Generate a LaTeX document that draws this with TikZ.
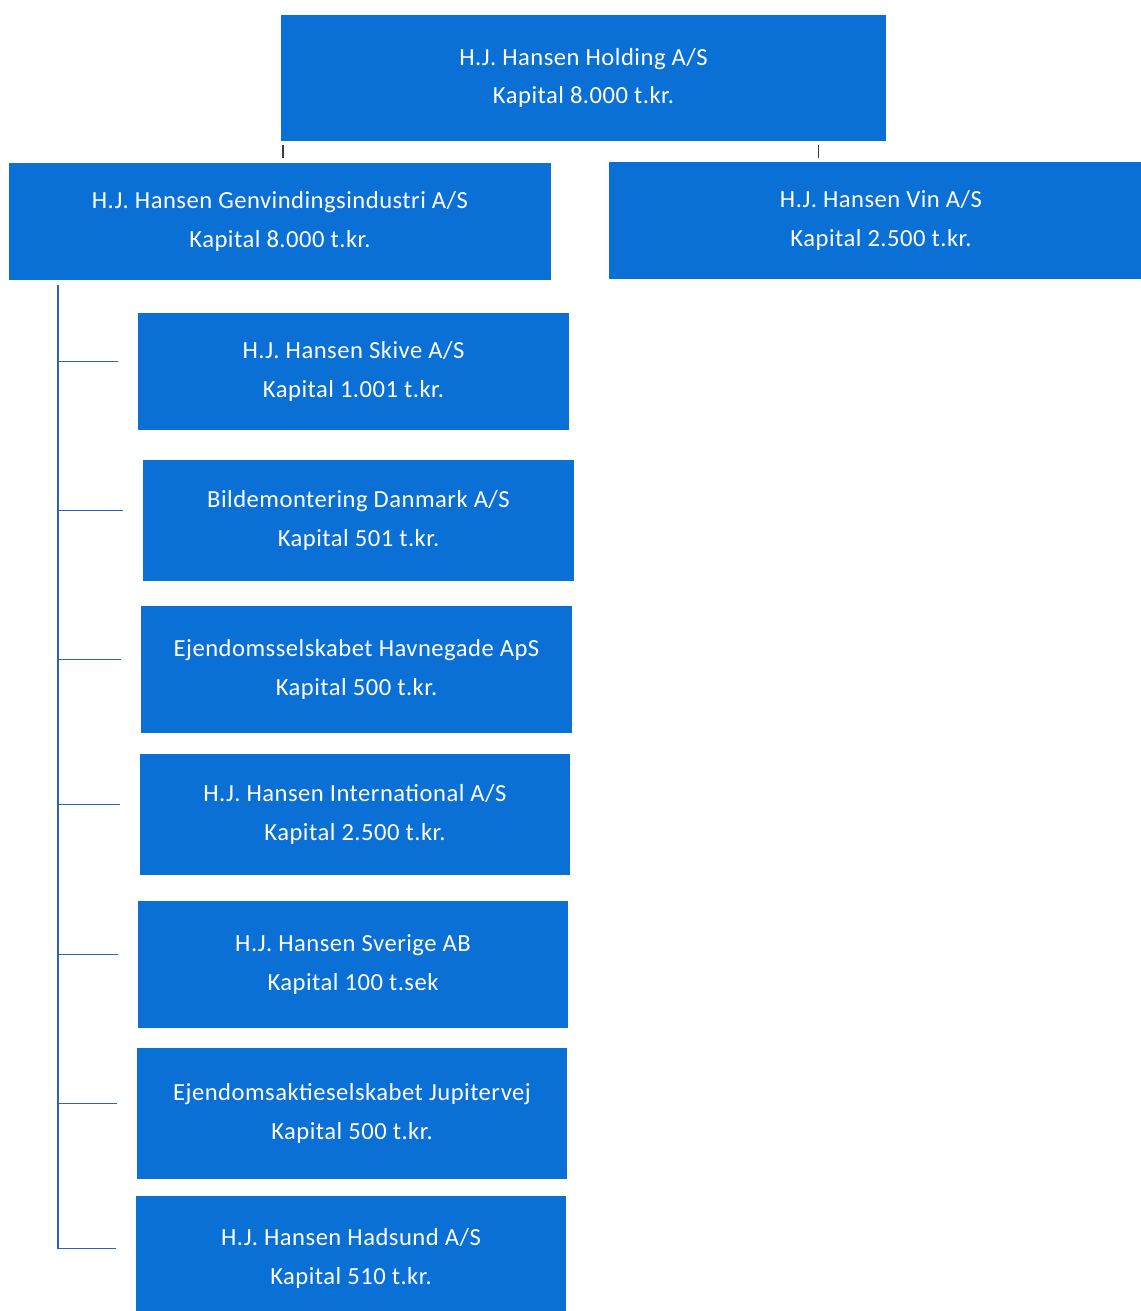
\documentclass[tikz,border=0pt]{standalone}
\usepackage{fontspec}
\setmainfont{Carlito}[LetterSpace=2]
\usepackage{tikz}
\usetikzlibrary{calc}

\definecolor{hjblue}{RGB}{10,112,214}
\definecolor{hjline}{RGB}{40,100,190}
\definecolor{hjtick}{RGB}{55,60,70}

\tikzset{
    firma/.style={fill=hjblue, draw=none, text=white, align=center,
        inner sep=0pt, font=\fontsize{14pt}{22pt}\selectfont},
    gren/.style={draw=hjline, line width=0.8pt},
    streg/.style={draw=hjtick, line width=0.9pt}
}

\begin{document}
\begin{tikzpicture}[x=0.02cm, y=-0.02cm]
        \useasboundingbox[fill=white] (0,0) rectangle (1140,1311);

        % top of the group
        \node[firma, minimum width=12.1cm, minimum height=2.52cm] (holding) at (583.5,78)
            {H.J. Hansen Holding A/S\\Kapital 8.000 t.kr.};

        % second level
        \node[firma, minimum width=10.84cm, minimum height=2.34cm] (genv) at (280,221.5)
            {H.J. Hansen Genvindingsindustri A/S\\Kapital 8.000 t.kr.};
        \node[firma, minimum width=10.88cm, minimum height=2.34cm] (vin) at (881,220.5)
            {H.J. Hansen Vin A/S\\Kapital 2.500 t.kr.};

        % daughters of Genvindingsindustri
        \node[firma, minimum width=8.62cm, minimum height=2.34cm] (skive) at (353.5,371.5)
            {H.J. Hansen Skive A/S\\Kapital 1.001 t.kr.};
        \node[firma, minimum width=8.62cm, minimum height=2.42cm] (bilde) at (358.5,520.5)
            {Bildemontering Danmark A/S\\Kapital 501 t.kr.};
        \node[firma, minimum width=8.62cm, minimum height=2.54cm] (havne) at (356.5,669.5)
            {Ejendomsselskabet Havnegade ApS\\Kapital 500 t.kr.};
        \node[firma, minimum width=8.6cm, minimum height=2.42cm] (inter) at (355,814.5)
            {H.J. Hansen International A/S\\Kapital 2.500 t.kr.};
        \node[firma, minimum width=8.6cm, minimum height=2.54cm] (sverige) at (353,964.5)
            {H.J. Hansen Sverige AB\\Kapital 100 t.sek};
        \node[firma, minimum width=8.6cm, minimum height=2.62cm] (jupiter) at (352,1113.5)
            {Ejendomsaktieselskabet Jupitervej\\Kapital 500 t.kr.};
        \node[firma, minimum width=8.6cm, minimum height=2.52cm] (hadsund) at (351,1258.5)
            {H.J. Hansen Hadsund A/S\\Kapital 510 t.kr.};

        % small ticks under the holding box
        \draw[streg] ([xshift=0.04cm, yshift=-0.08cm]holding.south west) -- ++(0,13);
        \draw[streg] ([xshift=-1.36cm, yshift=-0.08cm]holding.south east) -- ++(0,13);

        % trunk and branches
        \coordinate (trunk) at (58,285);
        \foreach \n in {skive,bilde,havne,inter,sverige,jupiter}
            \draw[gren] ([yshift=0.2cm]\n.west -| trunk) -- ([xshift=-0.4cm, yshift=0.2cm]\n.west);
        \draw[gren] (trunk) |- ([xshift=-0.4cm, yshift=0.2cm]hadsund.west);
\end{tikzpicture}
\end{document}
